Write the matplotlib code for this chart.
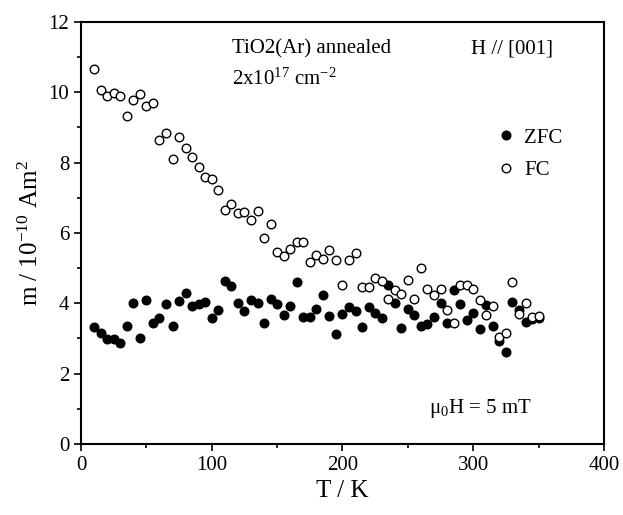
import numpy as np
import matplotlib
matplotlib.use("Agg")
import matplotlib.pyplot as plt
from matplotlib.ticker import MultipleLocator

plt.rcParams['font.family'] = 'Liberation Serif'
plt.rcParams['mathtext.fontset'] = 'custom'
plt.rcParams['mathtext.rm'] = 'Liberation Serif'
plt.rcParams['mathtext.it'] = 'Liberation Serif:italic'

# temperature (K)
T = [10, 15, 20, 25, 30, 35, 40, 45, 50, 55, 60, 65, 70, 75, 80, 85, 90, 95,
     100, 105, 110, 115, 120, 125, 130, 135, 140, 145, 150, 155, 160, 165, 170,
     175, 180, 185, 190, 195, 200, 205, 210, 215, 220, 225, 230, 235, 240, 245,
     250, 255, 260, 265, 270, 275, 280, 285, 290, 295, 300, 305, 310, 315, 320,
     325, 330, 335, 340, 345, 350]

# moment (1e-10 Am^2)
zfc = [3.33, 3.16, 2.98, 2.98, 2.88, 3.35, 4.01, 3.02, 4.10, 3.43, 3.58, 3.99,
       3.36, 4.05, 4.29, 3.92, 3.98, 4.03, 3.59, 3.82, 4.62, 4.48, 4.00, 3.77,
       4.09, 4.00, 3.43, 4.11, 3.97, 3.66, 3.93, 4.61, 3.62, 3.62, 3.83, 4.23,
       3.65, 3.13, 3.70, 3.88, 3.79, 3.32, 3.90, 3.73, 3.59, 4.51, 4.00, 3.31,
       3.83, 3.68, 3.36, 3.40, 3.61, 4.01, 3.44, 4.39, 3.99, 3.53, 3.73, 3.28,
       3.94, 3.36, 2.92, 2.62, 4.04, 3.81, 3.48, 3.55, 3.58]

fc = [10.66, 10.05, 9.88, 9.99, 9.89, 9.33, 9.78, 9.96, 9.61, 9.69, 8.63, 8.84,
      8.09, 8.73, 8.42, 8.17, 7.86, 7.60, 7.52, 7.22, 6.64, 6.82, 6.58, 6.59,
      6.36, 6.61, 5.86, 6.26, 5.46, 5.34, 5.54, 5.73, 5.75, 5.17, 5.38, 5.27,
      5.52, 5.22, 4.52, 5.23, 5.44, 4.47, 4.47, 4.73, 4.62, 4.11, 4.38, 4.26,
      4.66, 4.11, 5.00, 4.40, 4.23, 4.40, 3.81, 3.43, 4.51, 4.51, 4.41, 4.09,
      3.67, 3.93, 3.05, 3.16, 4.61, 3.69, 4.02, 3.60, 3.64]

fig = plt.figure(figsize=(6.23, 5.15), dpi=100)
ax = fig.add_axes([0.130, 0.138, 0.8395, 0.8195])

ax.plot(T, zfc, 'o', color='black', markersize=6.2, label='ZFC')
ax.plot(T, fc, 'o', markerfacecolor='white', markeredgecolor='black',
        markeredgewidth=1.0, markersize=6.2, label='FC')

ax.set_xlim(0, 400)
ax.set_ylim(0, 12)
ax.xaxis.set_major_locator(MultipleLocator(100))
ax.xaxis.set_minor_locator(MultipleLocator(50))
ax.yaxis.set_major_locator(MultipleLocator(2))
ax.yaxis.set_minor_locator(MultipleLocator(1))
ax.tick_params(which='both', direction='out', width=1.2, labelsize=15)
ax.tick_params(which='major', length=5)
ax.tick_params(which='minor', length=3)
for s in ax.spines.values():
    s.set_linewidth(1.5)

ax.set_xlabel('T / K', fontsize=18)
ax.set_ylabel(r'm / 10$^{\mathrm{-10}}$ Am$^{\mathrm{2}}$', fontsize=18)

ax.text(0.288, 0.935, 'TiO2(Ar) annealed', transform=ax.transAxes, fontsize=15, va='center')
ax.text(0.288, 0.865, r'2x10$^{\mathrm{17}}$ cm$^{\mathrm{-2}}$', transform=ax.transAxes,
        fontsize=15, va='center')
ax.text(0.745, 0.935, 'H // [001]', transform=ax.transAxes, fontsize=15, va='center')
ax.text(0.665, 0.085, r'$\mathrm{\mu_0}$H = 5 mT', transform=ax.transAxes, fontsize=15, va='center')

ax.legend(loc='upper left', bbox_to_anchor=(0.772, 0.768), frameon=False, fontsize=15,
          handletextpad=0.3, labelspacing=0.6, borderaxespad=0, handlelength=1.2)

fig.savefig('out.png', dpi=100)
